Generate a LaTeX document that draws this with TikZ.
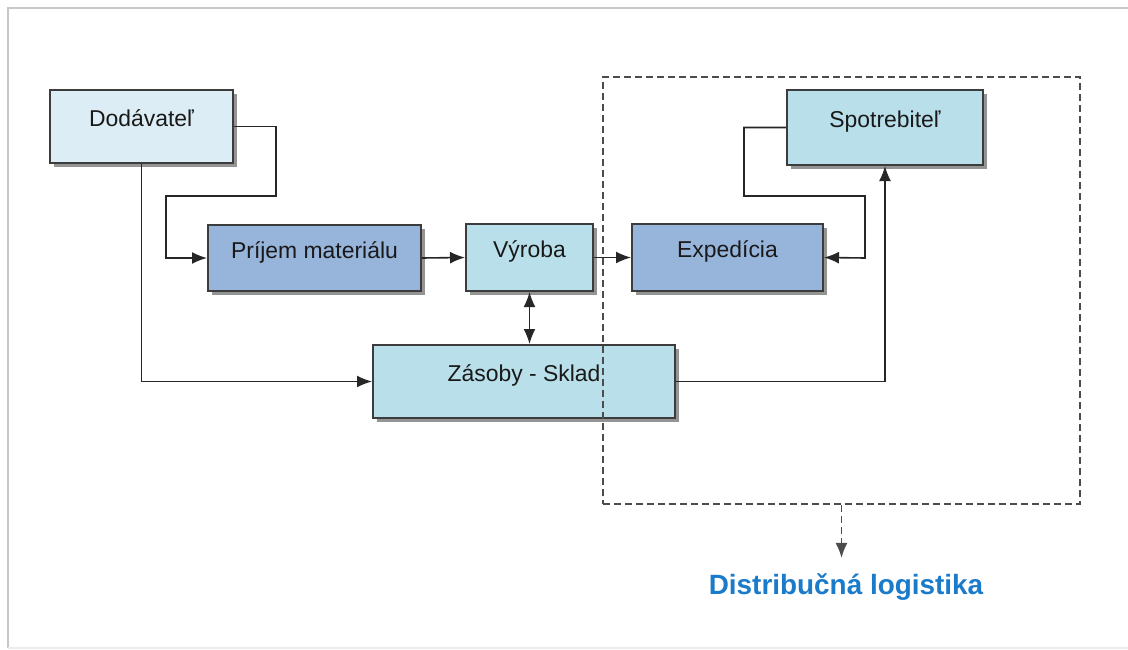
\documentclass[tikz,border=0pt]{standalone}
\usepackage{fontspec}
\setmainfont{Liberation Sans}
\usepackage{tikz}
\usetikzlibrary{arrows.meta,shadows}

\definecolor{boxpale}{HTML}{DCEDF5}
\definecolor{boxmid}{HTML}{97B4DA}
\definecolor{boxcyan}{HTML}{B8DFEA}
\definecolor{edgegray}{HTML}{3C3C3C}
\definecolor{distblue}{HTML}{1B7BCB}

\begin{document}
\begin{tikzpicture}[x=1bp,y=-1bp,
    >={Latex[length=15bp,width=12bp]},
    block/.style={draw=edgegray, line width=2bp, inner sep=0pt, text=black!90,
      font=\fontsize{23}{27}\selectfont, text height=12bp, text depth=12bp,
      drop shadow={shadow xshift=4bp, shadow yshift=-4bp, fill=black!60, opacity=.7}},
    flow/.style={draw=black!85, line width=1.6bp},
    region/.style={draw=black!70, line width=1.8bp, dash pattern=on 7bp off 4bp}]
	  \useasboundingbox (0,0) rectangle (1128,650);
	  % Draw the frame
	  \draw[black!22, line width=1.5bp] (8,648) -- (8,8) -- (1128,8);
	  \draw[black!8, line width=1.5bp] (8,648) -- (1128,648);
	  % Draw the blocks
	  \node[block, fill=boxpale, minimum width=183bp, minimum height=73bp] (dodavatel) at (141.5,126.5) {Dodávateľ};
	  \node[block, fill=boxmid, minimum width=213bp, minimum height=66bp] (prijem) at (314.5,258) {Príjem materiálu};
	  \node[block, fill=boxcyan, minimum width=127bp, minimum height=67bp] (vyroba) at (529.5,257.5) {Výroba};
	  \node[block, fill=boxmid, minimum width=191bp, minimum height=67bp] (expedicia) at (727.5,257.5) {Expedícia};
	  \node[block, fill=boxcyan, minimum width=302bp, minimum height=73bp] (zasoby) at (524,381.5) {Zásoby - Sklad};
	  \node[block, fill=boxcyan, minimum width=196bp, minimum height=75bp] (spotrebitel) at (885,127.5) {Spotrebiteľ};
	  % Draw the flows between the blocks
	  \draw[flow,->] (dodavatel.east) -| (276,196) -| (166,258) -- (prijem.west);
	  \draw[flow,->] (dodavatel.south) |- (zasoby.west);
	  \draw[flow,->] (prijem.east) -- (vyroba.west);
	  \draw[flow,->] (vyroba.east) -- (expedicia.west);
	  \draw[flow,<->] (vyroba.south) -- (vyroba.south |- zasoby.north);
	  \draw[flow,->] (zasoby.east) -| (spotrebitel.south);
	  \draw[flow,->] (spotrebitel.west) -| (744,196) -| (865,258) -- (expedicia.east);
	  % Distribution logistics
	  \node[region, minimum width=477bp, minimum height=427bp, inner sep=0pt] (distrib) at (841.5,290.5) {};
	  \node[text=distblue, font=\fontsize{28}{32}\selectfont\bfseries] (logistika) at (846,587) {Distribučná logistika};
	  \draw[region,->] (distrib.south) -- ++(0,53);
      \end{tikzpicture}
\end{document}
